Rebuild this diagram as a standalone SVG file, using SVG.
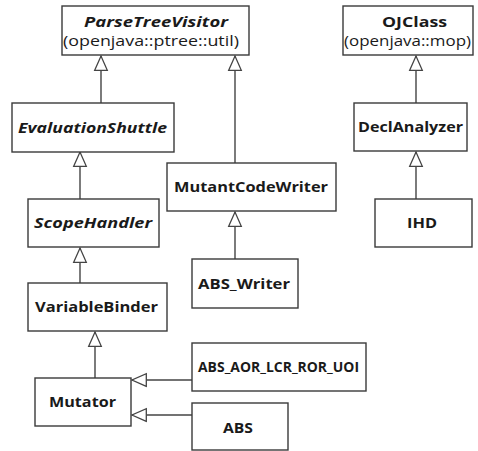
<svg xmlns="http://www.w3.org/2000/svg" width="478" height="451" viewBox="0 0 478 451">
  <style>
    .box { fill: #ffffff; stroke: #3a3a3a; stroke-width: 1.4; }
    .lbl { font-family: "Open Sans", "DejaVu Sans", sans-serif; font-weight: bold; font-size: 15px; fill: #1a1a1a; }
    .abs { font-style: italic; }
    .pkg { font-family: "Open Sans", "DejaVu Sans", sans-serif; font-size: 14px; fill: #1a1a1a; }
    .gen { stroke: #444444; stroke-width: 1.4; fill: none; marker-end: url(#inherit); }
  </style>
  <defs>
    <!-- hollow generalization arrowhead -->
    <marker id="inherit" viewBox="0 0 15 14" refX="15" refY="7" markerWidth="15" markerHeight="14" markerUnits="userSpaceOnUse" orient="auto" overflow="visible">
      <path d="M0.7,0.7 L15,7 L0.7,13.3 Z" fill="#ffffff" stroke="#444444" stroke-width="1.3" stroke-linejoin="miter"/>
    </marker>
  </defs>
  <rect width="478" height="451" fill="#ffffff"/>

  <g id="connectors">
    <line class="gen" x1="101" y1="103" x2="101" y2="56"/>
    <line class="gen" x1="235" y1="163" x2="235" y2="56"/>
    <line class="gen" x1="80" y1="199" x2="80" y2="152"/>
    <line class="gen" x1="80" y1="283" x2="80" y2="248"/>
    <line class="gen" x1="95" y1="378" x2="95" y2="332"/>
    <line class="gen" x1="235" y1="259" x2="235" y2="212"/>
    <line class="gen" x1="416" y1="103" x2="416" y2="56"/>
    <line class="gen" x1="416" y1="199" x2="416" y2="152"/>
    <line class="gen" x1="192" y1="380" x2="132" y2="380"/>
    <line class="gen" x1="192" y1="415" x2="132" y2="415"/>
  </g>

  <g id="ParseTreeVisitor">
    <rect class="box" x="62" y="6" width="187" height="49"/>
    <text class="lbl abs" x="84" y="27" textLength="144" lengthAdjust="spacingAndGlyphs">ParseTreeVisitor</text>
    <text class="pkg" x="63" y="46" textLength="176" lengthAdjust="spacingAndGlyphs">(openjava::ptree::util)</text>
  </g>
  <g id="OJClass">
    <rect class="box" x="343" y="6" width="130" height="49"/>
    <text class="lbl" x="382" y="27" textLength="65" lengthAdjust="spacingAndGlyphs">OJClass</text>
    <text class="pkg" x="344" y="46" textLength="127" lengthAdjust="spacingAndGlyphs">(openjava::mop)</text>
  </g>
  <g id="EvaluationShuttle">
    <rect class="box" x="12" y="103" width="162" height="49"/>
    <text class="lbl abs" x="18" y="133" textLength="149" lengthAdjust="spacingAndGlyphs">EvaluationShuttle</text>
  </g>
  <g id="DeclAnalyzer">
    <rect class="box" x="354" y="103" width="113" height="48"/>
    <text class="lbl" x="358" y="132" textLength="105" lengthAdjust="spacingAndGlyphs">DeclAnalyzer</text>
  </g>
  <g id="MutantCodeWriter">
    <rect class="box" x="167" y="163" width="169" height="48"/>
    <text class="lbl" x="174" y="192" textLength="154" lengthAdjust="spacingAndGlyphs">MutantCodeWriter</text>
  </g>
  <g id="ScopeHandler">
    <rect class="box" x="28" y="199" width="131" height="48"/>
    <text class="lbl abs" x="34" y="228" textLength="118" lengthAdjust="spacingAndGlyphs">ScopeHandler</text>
  </g>
  <g id="IHD">
    <rect class="box" x="375" y="199" width="97" height="48"/>
    <text class="lbl" x="407" y="228" textLength="30" lengthAdjust="spacingAndGlyphs">IHD</text>
  </g>
  <g id="ABS_Writer">
    <rect class="box" x="192" y="259" width="106" height="49"/>
    <text class="lbl" x="198" y="289" textLength="92" lengthAdjust="spacingAndGlyphs">ABS_Writer</text>
  </g>
  <g id="VariableBinder">
    <rect class="box" x="28" y="283" width="139" height="48"/>
    <text class="lbl" x="35" y="312" textLength="123" lengthAdjust="spacingAndGlyphs">VariableBinder</text>
  </g>
  <g id="ABS_AOR_LCR_ROR_UOI">
    <rect class="box" x="192" y="343" width="174" height="48"/>
    <text class="lbl" x="198" y="372" font-size="12.5" textLength="161" lengthAdjust="spacingAndGlyphs">ABS_AOR_LCR_ROR_UOI</text>
  </g>
  <g id="Mutator">
    <rect class="box" x="35" y="378" width="96" height="48"/>
    <text class="lbl" x="49" y="407" textLength="67" lengthAdjust="spacingAndGlyphs">Mutator</text>
  </g>
  <g id="ABS">
    <rect class="box" x="192" y="403" width="96" height="47"/>
    <text class="lbl" x="223" y="433" textLength="30" lengthAdjust="spacingAndGlyphs">ABS</text>
  </g>
</svg>
